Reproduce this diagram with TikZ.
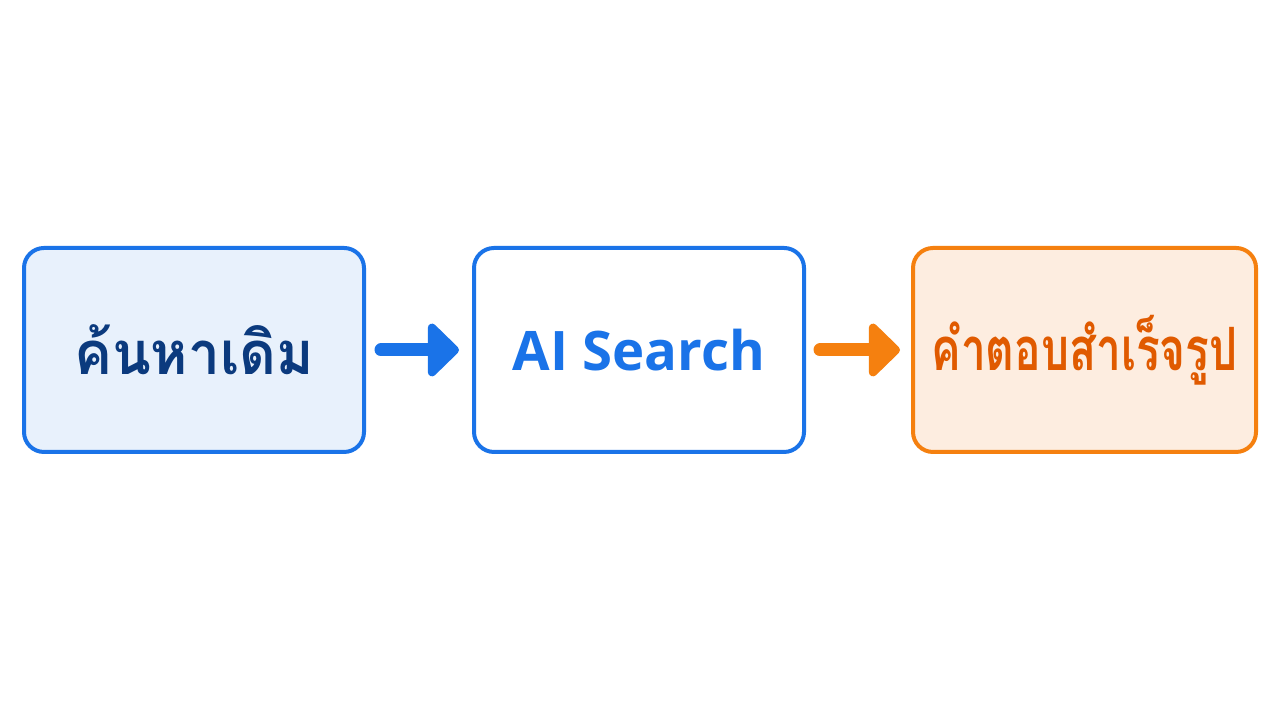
\documentclass[tikz,border=0pt]{standalone}
\usepackage{fontspec}
\setmainfont{Open Sans}
\newfontfamily\thaifont[Script=Thai,FakeStretch=0.95]{Loma}
\newfontfamily\thainarrow[Script=Thai,FakeStretch=0.74]{Loma}
\usetikzlibrary{positioning}
\usetikzlibrary{arrows.meta}
\definecolor{bluedge}{HTML}{1A73E8}
\definecolor{bluefill}{HTML}{E8F1FC}
\definecolor{navytext}{HTML}{0B3A7E}
\definecolor{orangedge}{HTML}{F5800F}
\definecolor{orangefill}{HTML}{FDEDE0}
\definecolor{orangetext}{HTML}{E05A00}

\begin{document}
\begin{tikzpicture}
\tikzstyle{box}=[rectangle,rounded corners=0.2cm,draw,line width=0.04cm,minimum height=2.04cm,align=center,font=\fontsize{17}{22}\selectfont\bfseries]
\tikzstyle{flow}=[line width=0.13cm,line cap=round,-{Triangle[round,length=0.33cm,width=0.62cm]}]
\useasboundingbox[fill=white] (0,0) rectangle (12.8,7.2);
\node[box,draw=bluedge,fill=bluefill,text=navytext,minimum width=3.40cm] at(1.94,3.70) (old) {\thaifont ค้นหาเดิม};
\node[box,draw=bluedge,fill=white,text=bluedge,minimum width=3.30cm,font=\fontsize{15.5}{20}\selectfont\bfseries] at(6.39,3.70) (ai) {AI Search};
\node[box,draw=orangedge,fill=orangefill,text=orangetext,minimum width=3.43cm] at(10.845,3.70) (answer) {\thainarrow คำตอบสำเร็จรูป};
\draw[flow,bluedge,shorten <=0.15cm,shorten >=0.13cm] (old) -- (ai);
\draw[flow,orangedge,shorten <=0.14cm,shorten >=0.11cm] (ai) -- (answer);
\end{tikzpicture}
\end{document}
